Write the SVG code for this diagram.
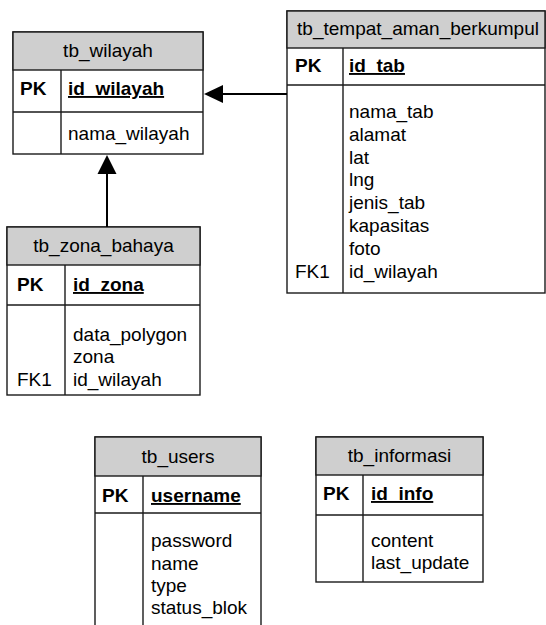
<svg xmlns="http://www.w3.org/2000/svg" width="546" height="625" viewBox="0 0 546 625">
<style>
.box{fill:#ffffff;stroke:#1a1a1a;stroke-width:1.4}
.hdr{fill:#cfcfcf;stroke:#1a1a1a;stroke-width:1.4}
.ln{stroke:#1a1a1a;stroke-width:1.4;fill:none}
text{font-family:"Liberation Sans",Arial,sans-serif;font-size:19px;fill:#000}
.t{text-anchor:middle}
.b{font-weight:bold}
.u{font-weight:bold;text-decoration:underline}
.conn{stroke:#000;stroke-width:2;fill:none}
</style>
<rect width="546" height="625" fill="#ffffff"/>
<g id="tb_wilayah">
<rect class="box" x="13" y="32" width="190" height="122"/>
<rect class="hdr" x="13" y="32" width="190" height="38"/>
<line class="ln" x1="13" y1="112" x2="203" y2="112"/>
<line class="ln" x1="61" y1="70" x2="61" y2="154"/>
<text class="t" x="108" y="57">tb_wilayah</text>
<text class="b" x="20" y="95">PK</text>
<text class="u" x="68" y="95">id_wilayah</text>
<text x="68" y="140">nama_wilayah</text>
</g>
<g id="tb_tempat_aman_berkumpul">
<rect class="box" x="287" y="11" width="258" height="282"/>
<rect class="hdr" x="287" y="11" width="258" height="37"/>
<line class="ln" x1="287" y1="85" x2="545" y2="85"/>
<line class="ln" x1="343" y1="48" x2="343" y2="293"/>
<text class="t" x="418" y="35">tb_tempat_aman_berkumpul</text>
<text class="b" x="295" y="72">PK</text>
<text class="u" x="349" y="72">id_tab</text>
<text x="349" y="118">nama_tab</text>
<text x="349" y="141">alamat</text>
<text x="349" y="164">lat</text>
<text x="349" y="186">lng</text>
<text x="349" y="209">jenis_tab</text>
<text x="349" y="232">kapasitas</text>
<text x="349" y="255">foto</text>
<text x="295" y="278">FK1</text>
<text x="349" y="278">id_wilayah</text>
</g>
<g id="tb_zona_bahaya">
<rect class="box" x="7" y="227" width="193" height="168"/>
<rect class="hdr" x="7" y="227" width="193" height="38"/>
<line class="ln" x1="7" y1="305" x2="200" y2="305"/>
<line class="ln" x1="65" y1="265" x2="65" y2="395"/>
<text class="t" x="103.5" y="252">tb_zona_bahaya</text>
<text class="b" x="17" y="291">PK</text>
<text class="u" x="73" y="291">id_zona</text>
<text x="73" y="341">data_polygon</text>
<text x="73" y="363">zona</text>
<text x="17" y="386">FK1</text>
<text x="73" y="386">id_wilayah</text>
</g>
<g id="tb_users">
<rect class="box" x="95" y="437" width="166" height="210"/>
<rect class="hdr" x="95" y="437" width="166" height="39"/>
<line class="ln" x1="95" y1="513" x2="261" y2="513"/>
<line class="ln" x1="143" y1="476" x2="143" y2="647"/>
<text class="t" x="178" y="463">tb_users</text>
<text class="b" x="102" y="502">PK</text>
<text class="u" x="151" y="502">username</text>
<text x="151" y="547">password</text>
<text x="151" y="570">name</text>
<text x="151" y="592">type</text>
<text x="151" y="614">status_blok</text>
</g>
<g id="tb_informasi">
<rect class="box" x="316" y="437" width="167" height="145"/>
<rect class="hdr" x="316" y="437" width="167" height="38"/>
<line class="ln" x1="316" y1="515" x2="483" y2="515"/>
<line class="ln" x1="363" y1="475" x2="363" y2="582"/>
<text class="t" x="399.5" y="462">tb_informasi</text>
<text class="b" x="323" y="500">PK</text>
<text class="u" x="371" y="500">id_info</text>
<text x="371" y="547">content</text>
<text x="371" y="569">last_update</text>
</g>
<g id="connectors">
<line class="conn" x1="287" y1="94" x2="222" y2="94"/>
<polygon points="204,94 223,85 223,103" fill="#000"/>
<line class="conn" x1="107" y1="227" x2="107" y2="173"/>
<polygon points="107,155 97.5,174 116.5,174" fill="#000"/>
</g>
</svg>
